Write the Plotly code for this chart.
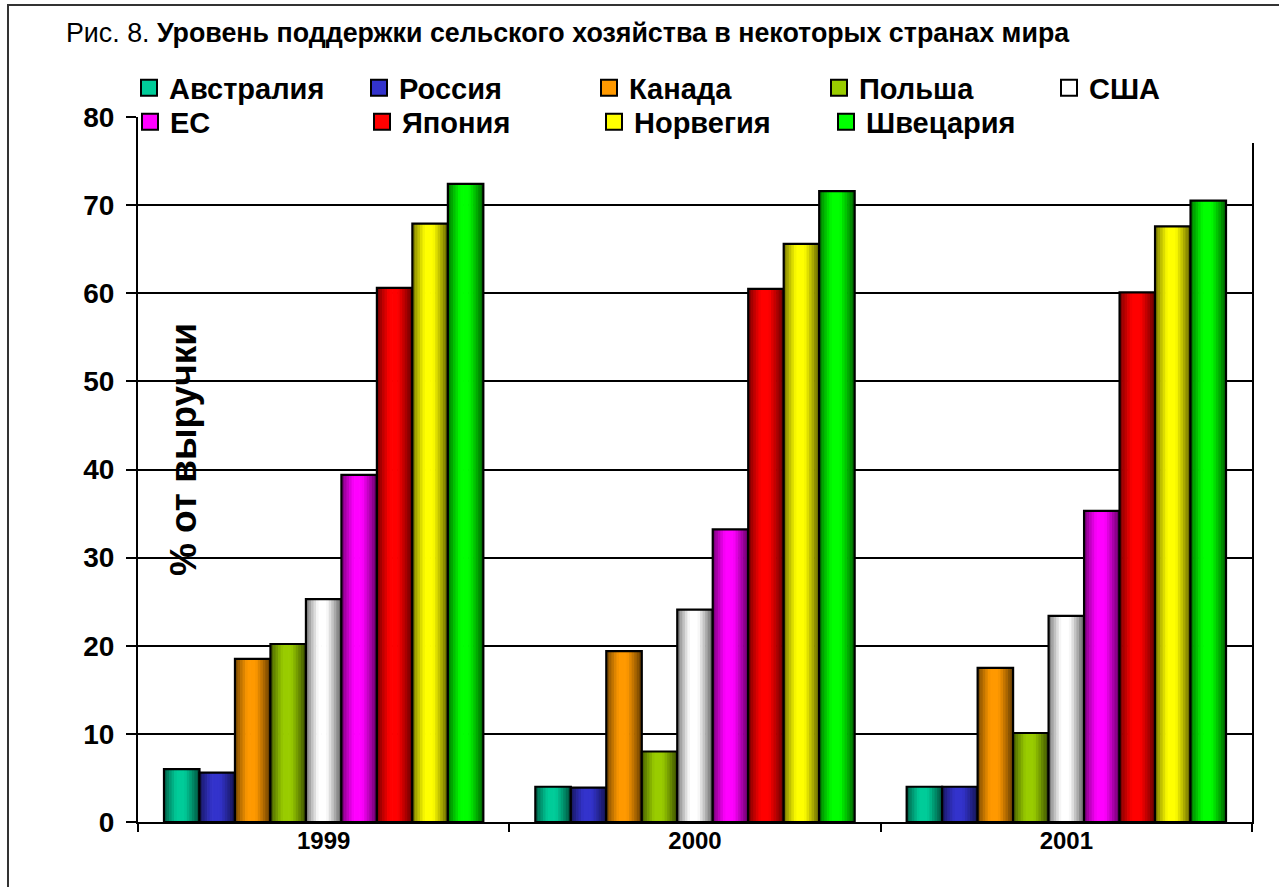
import plotly.graph_objects as go

# Support levels, % of farm receipts
years = ["1999", "2000", "2001"]
countries = ["Австралия", "Россия", "Канада", "Польша", "США",
             "ЕС", "Япония", "Норвегия", "Швецария"]
australia = [6.0, 4.0, 4.0]
russia = [5.6, 3.9, 4.0]
canada = [18.5, 19.4, 17.5]
poland = [20.2, 8.0, 10.1]
usa = [25.3, 24.1, 23.4]
eu = [39.4, 33.2, 35.3]
japan = [60.6, 60.5, 60.1]
norway = [67.9, 65.6, 67.6]
switzerland = [72.4, 71.6, 70.5]
series = [australia, russia, canada, poland, usa, eu, japan, norway, switzerland]
colors = ["#00CC99", "#3333CC", "#FF9900", "#99CC00", "#FFFFFF",
          "#FF00FF", "#FF0000", "#FFFF00", "#00FF00"]
y_ticks = [0, 10, 20, 30, 40, 50, 60, 70, 80]

FONT = "Liberation Sans, Arial, sans-serif"
GROUP = 0.86          # share of a category taken by the bar group
N_STRIPS = 14         # vertical strips used for the cylinder shading


def hex_rgb(h):
    h = h.lstrip("#")
    return [int(h[i:i + 2], 16) for i in (0, 2, 4)]


def shade(t):
    # brightness across a bar: dark edges, bright centre
    if t < 0.35:
        return 0.42 + 0.58 * (t / 0.35) ** 0.8
    if t <= 0.58:
        return 1.0
    return 1.0 - 0.62 * ((t - 0.58) / 0.42) ** 1.1


fig = go.Figure()
n = len(series)
bw = GROUP / n
for i, (name, vals, col) in enumerate(zip(countries, series, colors)):
    base = -GROUP / 2 + i * bw
    r, g, b = hex_rgb(col)
    sw = bw / N_STRIPS
    for k in range(N_STRIPS):
        f = shade((k + 0.5) / N_STRIPS)
        c = f"rgb({int(r * f)},{int(g * f)},{int(b * f)})"
        fig.add_trace(go.Bar(
            x=years, y=vals, offset=base + k * sw,
            width=sw * (1.3 if k < N_STRIPS - 1 else 1.0),
            marker=dict(color=c, line=dict(width=0)),
            showlegend=False, hoverinfo="skip",
        ))
    fig.add_trace(go.Bar(
        x=years, y=vals, offset=base, width=bw, name=name,
        marker=dict(color="rgba(0,0,0,0)", line=dict(color="black", width=2.2)),
        showlegend=False,
    ))

# legend entries: first five on the upper row, the rest on the lower row
for j, (name, col) in enumerate(zip(countries, colors)):
    fig.add_trace(go.Scatter(
        x=[None], y=[None], mode="markers", name=name,
        legend="legend" if j < 5 else "legend2",
        marker=dict(symbol="square", size=16, color=col,
                    line=dict(color="black", width=2)),
    ))

legend_style = dict(
    orientation="h", yanchor="middle",
    bgcolor="rgba(0,0,0,0)", borderwidth=0,
    entrywidthmode="pixels",
    font=dict(family=FONT, size=29, weight="bold"),
    itemwidth=30,
)

fig.update_layout(
    width=1279, height=887,
    margin=dict(l=138, r=27, t=117, b=65),
    paper_bgcolor="white", plot_bgcolor="white",
    barmode="overlay",
    font=dict(family=FONT, color="black"),
    showlegend=True,
    legend=dict(legend_style, x=-0.0081, xanchor="left", y=1.0411, entrywidth=185),
    legend2=dict(legend_style, x=0.0, xanchor="left", y=0.9929,
                 indentation=-8, entrywidth=195),
    xaxis=dict(
        type="category", range=[-0.5, 2.5],
        showline=True, linecolor="black", linewidth=2,
        ticks="outside", tickson="boundaries", ticklen=8, tickwidth=2,
        tickcolor="black", showgrid=False, ticklabelstandoff=-4,
        tickfont=dict(family=FONT, size=24, weight="bold"),
    ),
    yaxis=dict(
        range=[0, 80], tickvals=y_ticks,
        showline=True, linecolor="black", linewidth=2, mirror=True,
        ticks="outside", ticklen=10, tickwidth=2, tickcolor="black",
        showgrid=True, gridcolor="black", gridwidth=2,
        zeroline=False, ticklabelstandoff=6,
        tickfont=dict(family=FONT, size=28, weight="bold"),
    ),
    annotations=[
        dict(text="Рис. 8. <b>Уровень поддержки сельского хозяйства в некоторых странах мира</b>",
             xref="paper", yref="paper", x=-0.0664, y=1.119,
             xanchor="left", yanchor="middle", showarrow=False,
             font=dict(family=FONT, size=26.8)),
        dict(text="<b>% от выручки</b>", xref="paper", yref="y",
             x=0.0404, y=42.2, textangle=-90, showarrow=False,
             xanchor="center", yanchor="middle",
             font=dict(family=FONT, size=37)),
    ],
    shapes=[
        # outer frame of the figure
        dict(type="rect", xref="paper", yref="paper",
             x0=-0.1167, x1=1.2, y0=-0.3, y1=1.1589,
             line=dict(color="#333333", width=2), layer="below"),
        # white band behind the legend at the top of the plot area
        dict(type="rect", xref="paper", yref="paper",
             x0=0.0, x1=1.003, y0=0.9631, y1=1.004,
             fillcolor="white", line=dict(width=0), layer="above"),
    ],
)

fig.write_html("out.html")
